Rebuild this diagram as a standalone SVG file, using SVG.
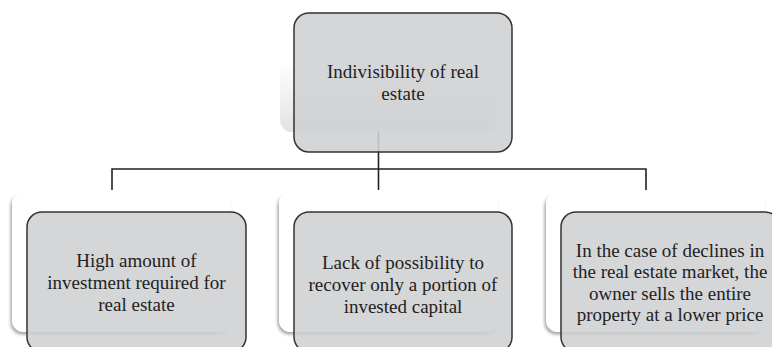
<svg xmlns="http://www.w3.org/2000/svg" width="772" height="347" viewBox="0 0 772 347">
<defs>
<filter id="sh" x="-10%" y="-10%" width="120%" height="125%">
<feDropShadow dx="-1.5" dy="2.5" stdDeviation="1.5" flood-color="#000" flood-opacity="0.35"/>
</filter>
<linearGradient id="topg" x1="0" y1="0" x2="0" y2="1">
<stop offset="0.5" stop-color="#ffffff"/>
<stop offset="1" stop-color="#e2e2e2"/>
</linearGradient>
</defs>
<style>
.back{fill:#ffffff;filter:url(#sh);}
.backtop{fill:url(#topg);}
.front{fill:#cfd0d3;fill-opacity:0.88;stroke:#333333;stroke-width:1.5;}
.lbl{font-family:"Liberation Serif","Times New Roman",serif;font-size:19px;fill:#222222;text-anchor:middle;}
.conn{fill:none;stroke:#222222;stroke-width:1.6;}
</style>
<rect width="772" height="347" fill="#ffffff"/>
<g id="connectors">
<path class="conn" d="M378.5,132 V190"/>
<path class="conn" d="M112,190 V169 H646 V190"/>
</g>
<g id="node-top">
<rect class="backtop" x="280" y="-7" width="217" height="139" rx="12"/>
<rect class="front" x="294" y="13" width="218" height="139" rx="15"/>
<text class="lbl" x="403" y="78">Indivisibility of real</text>
<text class="lbl" x="403" y="100">estate</text>
</g>
<g id="node-left">
<rect class="back" x="12" y="192" width="219" height="140" rx="12"/>
<rect class="front" x="27" y="212" width="219" height="140" rx="15"/>
<text class="lbl" x="136.5" y="267">High amount of</text>
<text class="lbl" x="136.5" y="289">investment required for</text>
<text class="lbl" x="136.5" y="310.5">real estate</text>
</g>
<g id="node-middle">
<rect class="back" x="279" y="192" width="219" height="140" rx="12"/>
<rect class="front" x="294" y="212" width="218" height="140" rx="15"/>
<text class="lbl" x="403" y="269">Lack of possibility to</text>
<text class="lbl" x="403" y="291">recover only a portion of</text>
<text class="lbl" x="403" y="312.5">invested capital</text>
</g>
<g id="node-right">
<rect class="back" x="546" y="192" width="219" height="140" rx="12"/>
<rect class="front" x="561" y="212" width="219" height="140" rx="15"/>
<text class="lbl" x="670" y="256.5">In the case of declines in</text>
<text class="lbl" x="670" y="278">the real estate market, the</text>
<text class="lbl" x="670" y="299.5">owner sells the entire</text>
<text class="lbl" x="670" y="321">property at a lower price</text>
</g>
</svg>
